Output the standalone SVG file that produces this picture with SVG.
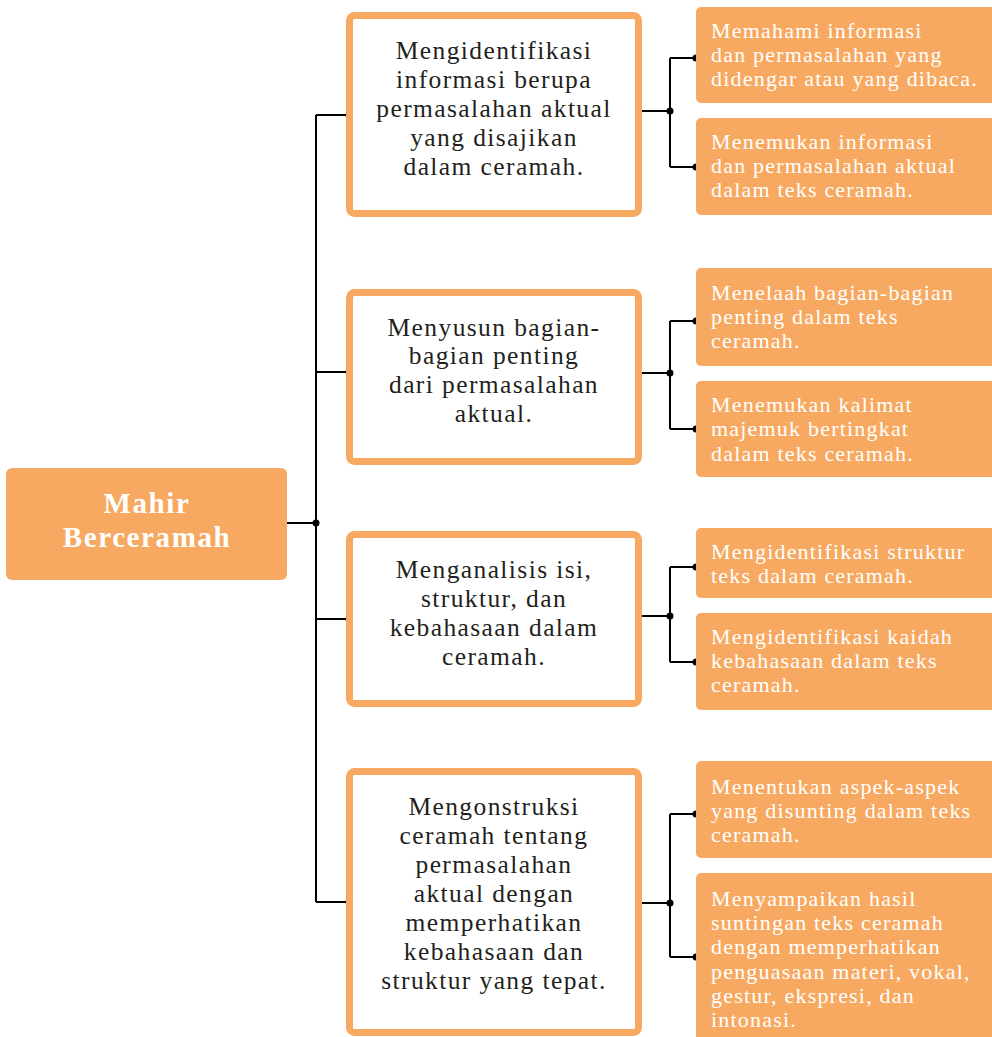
<svg xmlns="http://www.w3.org/2000/svg" width="992" height="1037" viewBox="0 0 992 1037">
<style>
.mid{fill:#fff;stroke:#F7A961;stroke-width:7}
.leaf{fill:#F7A961}
.mt{font-family:"Liberation Serif","DejaVu Serif",serif;font-size:25.5px;fill:#231F20;text-anchor:middle;letter-spacing:1.4px}
.lt{font-family:"Liberation Serif","DejaVu Serif",serif;font-size:22px;fill:#fff;letter-spacing:1.2px}
.rt{font-family:"Liberation Serif","DejaVu Serif",serif;font-size:29px;font-weight:bold;fill:#fff;text-anchor:middle;letter-spacing:1.6px}
.ln{fill:none;stroke:#000;stroke-width:2}
</style>
<rect width="992" height="1037" fill="#fff"/>
<g id="connectors">
<path class="ln" d="M287 523H316M316 115V902M316 115H349M316 372H349M316 619H349M316 902H349"/>
<path class="ln" d="M642 111H670M670 58V167M670 58H696M670 167H696"/>
<path class="ln" d="M642 373H670M670 321V429M670 321H696M670 429H696"/>
<path class="ln" d="M642 616H670M670 567V662M670 567H696M670 662H696"/>
<path class="ln" d="M642 903H670M670 814V957M670 814H696M670 957H696"/>
<g fill="#000">
<circle cx="316" cy="523" r="3.5"/><circle cx="349" cy="115" r="3.5"/><circle cx="349" cy="372" r="3.5"/><circle cx="349" cy="619" r="3.5"/><circle cx="349" cy="902" r="3.5"/>
<circle cx="670" cy="111" r="3.5"/><circle cx="696" cy="58" r="3.5"/><circle cx="696" cy="167" r="3.5"/>
<circle cx="670" cy="373" r="3.5"/><circle cx="696" cy="321" r="3.5"/><circle cx="696" cy="429" r="3.5"/>
<circle cx="670" cy="616" r="3.5"/><circle cx="696" cy="567" r="3.5"/><circle cx="696" cy="662" r="3.5"/>
<circle cx="670" cy="903" r="3.5"/><circle cx="696" cy="814" r="3.5"/><circle cx="696" cy="957" r="3.5"/>
</g>
</g>
<g id="root">
<rect class="leaf" x="6" y="468" width="281" height="112" rx="6"/>
<text class="rt" x="147" y="513">Mahir</text>
<text class="rt" x="147" y="547">Berceramah</text>
</g>
<g id="m1">
<rect class="mid" x="349.5" y="15.5" width="289" height="198" rx="5"/>
<text class="mt" x="494" y="59">Mengidentifikasi</text>
<text class="mt" x="494" y="88">informasi berupa</text>
<text class="mt" x="494" y="117">permasalahan aktual</text>
<text class="mt" x="494" y="146">yang disajikan</text>
<text class="mt" x="494" y="175">dalam ceramah.</text>
</g>
<g id="m2">
<rect class="mid" x="349.5" y="292.5" width="289" height="169" rx="5"/>
<text class="mt" x="494" y="336">Menyusun bagian-</text>
<text class="mt" x="494" y="364">bagian penting</text>
<text class="mt" x="494" y="393">dari permasalahan</text>
<text class="mt" x="494" y="422">aktual.</text>
</g>
<g id="m3">
<rect class="mid" x="349.5" y="534.5" width="289" height="169" rx="5"/>
<text class="mt" x="494" y="578">Menganalisis isi,</text>
<text class="mt" x="494" y="607">struktur, dan</text>
<text class="mt" x="494" y="636">kebahasaan dalam</text>
<text class="mt" x="494" y="665">ceramah.</text>
</g>
<g id="m4">
<rect class="mid" x="349.5" y="771.5" width="289" height="261" rx="5"/>
<text class="mt" x="494" y="815">Mengonstruksi</text>
<text class="mt" x="494" y="844">ceramah tentang</text>
<text class="mt" x="494" y="873">permasalahan</text>
<text class="mt" x="494" y="902">aktual dengan</text>
<text class="mt" x="494" y="931">memperhatikan</text>
<text class="mt" x="494" y="960">kebahasaan dan</text>
<text class="mt" x="494" y="989">struktur yang tepat.</text>
</g>
<g id="a1">
<rect class="leaf" x="696" y="7" width="302" height="96" rx="5"/>
<text class="lt" x="711" y="38">Memahami informasi</text>
<text class="lt" x="711" y="62">dan permasalahan yang</text>
<text class="lt" x="711" y="86">didengar atau yang dibaca.</text>
</g>
<g id="a2">
<rect class="leaf" x="696" y="118" width="302" height="97" rx="5"/>
<text class="lt" x="711" y="149">Menemukan informasi</text>
<text class="lt" x="711" y="173">dan permasalahan aktual</text>
<text class="lt" x="711" y="197">dalam teks ceramah.</text>
</g>
<g id="b1">
<rect class="leaf" x="696" y="268" width="302" height="98" rx="5"/>
<text class="lt" x="711" y="300">Menelaah bagian-bagian</text>
<text class="lt" x="711" y="324">penting dalam teks</text>
<text class="lt" x="711" y="348">ceramah.</text>
</g>
<g id="b2">
<rect class="leaf" x="696" y="381" width="302" height="96" rx="5"/>
<text class="lt" x="711" y="412">Menemukan kalimat</text>
<text class="lt" x="711" y="436">majemuk bertingkat</text>
<text class="lt" x="711" y="461">dalam teks ceramah.</text>
</g>
<g id="c1">
<rect class="leaf" x="696" y="528" width="302" height="70" rx="5"/>
<text class="lt" x="711" y="559">Mengidentifikasi struktur</text>
<text class="lt" x="711" y="583">teks dalam ceramah.</text>
</g>
<g id="c2">
<rect class="leaf" x="696" y="613" width="302" height="97" rx="5"/>
<text class="lt" x="711" y="644">Mengidentifikasi kaidah</text>
<text class="lt" x="711" y="668">kebahasaan dalam teks</text>
<text class="lt" x="711" y="692">ceramah.</text>
</g>
<g id="d1">
<rect class="leaf" x="696" y="761" width="302" height="97" rx="5"/>
<text class="lt" x="711" y="794">Menentukan aspek-aspek</text>
<text class="lt" x="711" y="818">yang disunting dalam teks</text>
<text class="lt" x="711" y="842">ceramah.</text>
</g>
<g id="d2">
<rect class="leaf" x="696" y="873" width="302" height="180" rx="5"/>
<text class="lt" x="711" y="906">Menyampaikan hasil</text>
<text class="lt" x="711" y="930">suntingan teks ceramah</text>
<text class="lt" x="711" y="954">dengan memperhatikan</text>
<text class="lt" x="711" y="979">penguasaan materi, vokal,</text>
<text class="lt" x="711" y="1003">gestur, ekspresi, dan</text>
<text class="lt" x="711" y="1027">intonasi.</text>
</g>
</svg>
